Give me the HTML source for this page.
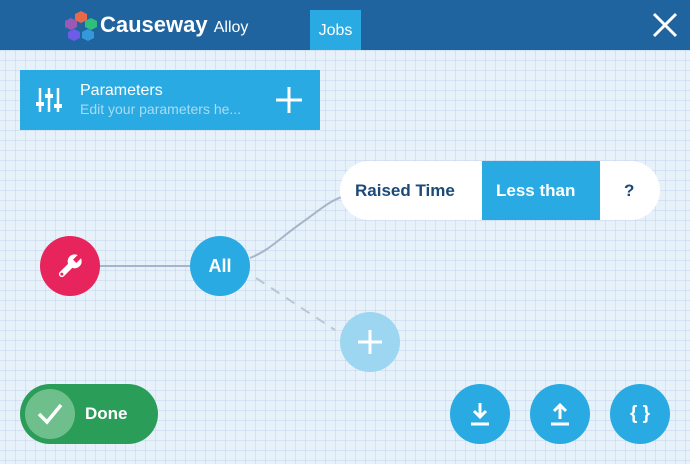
<!DOCTYPE html>
<html><head><style>
html,body{margin:0;padding:0}
body{width:690px;height:464px;position:relative;overflow:hidden;font-family:"Liberation Sans",sans-serif;
background-color:#e6f1fa;
background-image:linear-gradient(rgba(150,175,225,.22) 1px,transparent 1px),linear-gradient(90deg,rgba(150,175,225,.22) 1px,transparent 1px);
background-size:10px 10px;background-position:5px 0}
.abs{position:absolute}
.hdr{left:0;top:0;width:690px;height:50px;background:#20649f}
.circ{position:absolute;width:60px;height:60px;border-radius:50%;display:flex;align-items:center;justify-content:center;color:#fff;font-weight:bold}
</style></head><body>
<div class="abs hdr"></div>
<svg class="abs" style="left:64px;top:10px" width="34" height="32" viewBox="0 0 34 32">
<polygon points="17,1 23,4 23,10 17,13 11,10 11,4" fill="#e8684a"/>
<polygon points="7,8 13,11 13,17 7,20 1,17 1,11" fill="#9b59b6"/>
<polygon points="27,8 33,11 33,17 27,20 21,17 21,11" fill="#2ebf7e"/>
<polygon points="10,19 16,22 16,28 10,31 4,28 4,22" fill="#6c5ce7"/>
<polygon points="24,19 30,22 30,28 24,31 18,28 18,22" fill="#3498db"/>
</svg>
<div class="abs" style="left:100px;top:12px;color:#fff;font-size:22px;font-weight:bold">Causeway <span style="font-size:16px;font-weight:normal">Alloy</span></div>
<div class="abs" style="left:310px;top:10px;width:51px;height:40px;background:#29aae2;color:#fff;font-size:16px;line-height:42px;text-align:center">Jobs</div>
<svg class="abs" style="left:652px;top:12px" width="26" height="26"><path d="M2 2L24 24M24 2L2 24" stroke="#fff" stroke-width="3"/></svg>

<div class="abs" style="left:20px;top:70px;width:300px;height:60px;background:#29aae2"></div>
<svg class="abs" style="left:36px;top:86px" width="26" height="28">
<g stroke="#fff" stroke-width="2.5"><path d="M4 2V26M13 2V26M22 2V26"/></g>
<g fill="#fff"><rect x="0" y="16" width="8" height="4"/><rect x="9" y="8" width="8" height="4"/><rect x="18" y="18" width="8" height="4"/></g></svg>
<div class="abs" style="left:80px;top:82px;color:#fff;font-size:16px">Parameters</div>
<div class="abs" style="left:80px;top:101px;color:#a8dcf4;font-size:14px">Edit your parameters he...</div>
<svg class="abs" style="left:276px;top:87px" width="26" height="26"><path d="M13 0V26M0 13H26" stroke="#fff" stroke-width="3"/></svg>

<svg class="abs" style="left:0;top:0" width="690" height="464">
<path d="M100 266H190" stroke="#a8b5c8" stroke-width="2"/>
<path d="M250 258C270 250 280 238 300 224S330 200 345 196" stroke="#a8b5c8" stroke-width="2" fill="none"/>
<path d="M256 278L335 330" stroke="#b9c6d6" stroke-width="2" stroke-dasharray="10,8"/>
</svg>

<div class="abs" style="left:340px;top:161px;width:320px;height:59px;background:#fff;border-radius:30px;overflow:hidden">
<div class="abs" style="left:142px;top:0;width:118px;height:59px;background:#29aae2"></div>
<div class="abs" style="left:15px;top:0;line-height:60px;color:#1b4a78;font-weight:bold;font-size:17px">Raised Time</div>
<div class="abs" style="left:156px;top:0;line-height:60px;color:#fff;font-weight:bold;font-size:17px">Less than</div>
<div class="abs" style="left:284px;top:0;line-height:60px;color:#1b4a78;font-weight:bold;font-size:17px">?</div>
</div>

<div class="circ" style="left:40px;top:236px;background:#e8245c">
<svg width="28" height="28" viewBox="0 0 24 24"><path d="M5 19L14 10" stroke="#fff" stroke-width="5" stroke-linecap="round"/><circle cx="16" cy="8" r="6" fill="#fff"/><path d="M16 8L22 2" stroke="#e8245c" stroke-width="4"/><circle cx="5" cy="19" r="1.3" fill="#e8245c"/></svg></div>
<div class="circ" style="left:190px;top:236px;background:#29aae2;font-size:18px">All</div>
<div class="circ" style="left:340px;top:312px;background:#9dd6f1"><svg width="26" height="26"><path d="M13 1V25M1 13H25" stroke="#fff" stroke-width="3"/></svg></div>

<div class="abs" style="left:20px;top:384px;width:138px;height:60px;background:#2a9d58;border-radius:30px"></div>
<div class="circ" style="left:25px;top:389px;width:50px;height:50px;background:#6fbf8c"><svg width="26" height="22"><path d="M2 11L10 19L24 2" stroke="#fff" stroke-width="3.5" fill="none"/></svg></div>
<div class="abs" style="left:85px;top:404px;color:#fff;font-weight:bold;font-size:17px">Done</div>

<div class="circ" style="left:450px;top:384px;background:#29aae2"><svg width="20" height="26"><path d="M10 2V16M4 10L10 16L16 10" stroke="#fff" stroke-width="3" fill="none"/><path d="M1 23H19" stroke="#fff" stroke-width="3"/></svg></div>
<div class="circ" style="left:530px;top:384px;background:#29aae2"><svg width="20" height="26"><path d="M10 18V4M4 10L10 4L16 10" stroke="#fff" stroke-width="3" fill="none"/><path d="M1 23H19" stroke="#fff" stroke-width="3"/></svg></div>
<div class="circ" style="left:610px;top:384px;background:#29aae2;font-size:19px">{ }</div>
</body></html>
